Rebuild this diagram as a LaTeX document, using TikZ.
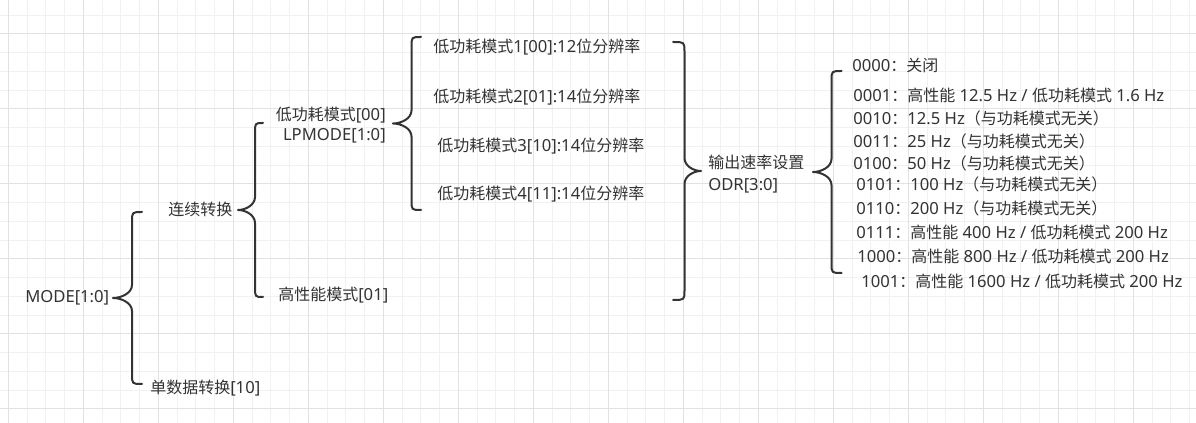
\documentclass[tikz,border=0pt]{standalone}
\usepackage{fontspec}
\usepackage{tikz}
\setmainfont[Scale=1.04]{Noto Sans}
\newfontfamily\cjk{Noto Sans CJK SC}
\definecolor{inkgray}{HTML}{333333}
\definecolor{gridlight}{HTML}{F1F1F1}
\definecolor{griddark}{HTML}{E2E2E2}
\newcommand{\cn}[1]{{\cjk #1}}
% #1 end x, #2 spine x, #3 tip x, #4 top y, #5 bottom y
\newcommand{\curly}[5]{%
	\draw[bracket] (#1,#4) .. controls (#2,#4) .. (#2,#4+10)
		-- (#2,{(#4+#5)/2-13})
		.. controls (#2,{(#4+#5)/2-5}) and ({#2+0.55*(#3-#2)},{(#4+#5)/2}) .. (#3,{(#4+#5)/2})
		.. controls ({#2+0.55*(#3-#2)},{(#4+#5)/2}) and (#2,{(#4+#5)/2+5}) .. (#2,{(#4+#5)/2+13})
		-- (#2,#5-10) .. controls (#2,#5) .. (#1,#5);}

\begin{document}
\begin{tikzpicture}[x=0.75pt, y=-0.75pt,
		every node/.style={font=\fontsize{12}{15}\selectfont, text=inkgray, inner sep=0pt},
		lbl/.style={anchor=west, text height=0.9em, text depth=0.18em},
		bracket/.style={draw=inkgray, line width=1.5pt, line cap=round, line join=round},
		gridminor/.style={draw=gridlight, line width=0.75pt},
		gridmajor/.style={draw=griddark, line width=0.75pt}]
			\useasboundingbox (0,0) rectangle (1196,423);
			\fill[white] (0,0) rectangle (1196,423);
			\foreach \k in {0,...,63} \draw[gridminor] ({8.33+18.75*\k},0) -- ++(0,423);
			\foreach \k in {0,...,21} \draw[gridminor] (0,{15.25+18.75*\k}) -- ++(1196,0);
			\foreach \k in {0,...,15} \draw[gridmajor] ({8.33+75*\k},0) -- ++(0,423);
			\foreach \k in {0,...,5} \draw[gridmajor] (0,{34+75*\k}) -- ++(1196,0);
			%
			\node[lbl] (mode)	at (25, 298)	{MODE[1:0]};
			\node[lbl] (cont)	at (168, 211)	{\cn{连续转换}};
			\node[lbl] (single)	at (150, 389)	{\cn{单数据转换}[10]};
			\node[anchor=east, align=right] (lpmode)	at (386, 125)	{\cn{低功耗模式}[00]\\LPMODE[1:0]};
			\node[lbl] (hperf)	at (278, 296)	{\cn{高性能模式}[01]};
			%
			\node[lbl] (lp1)	at (433, 48)	{\cn{低功耗模式}1[00]:12\cn{位分辨率}};
			\node[lbl] (lp2)	at (433, 98)	{\cn{低功耗模式}2[01]:14\cn{位分辨率}};
			\node[lbl] (lp3)	at (437, 147)	{\cn{低功耗模式}3[10]:14\cn{位分辨率}};
			\node[lbl] (lp4)	at (437, 195)	{\cn{低功耗模式}4[11]:14\cn{位分辨率}};
			%
			\node[anchor=west, align=left, font=\fontsize{12}{16.5}\selectfont] (odr)	at (708, 174)	{\cn{输出速率设置}\\ODR[3:0]};
			%
			\node[lbl] (o0000)	at (852, 67)	{0000\cn{：关闭}};
			\node[lbl] (o0001)	at (853, 97)	{0001\cn{：高性能} 12.5 Hz / \cn{低功耗模式} 1.6 Hz};
			\node[lbl] (o0010)	at (853, 120)	{0010\cn{：}12.5 Hz\cn{（与功耗模式无关）}};
			\node[lbl] (o0011)	at (853, 143)	{0011\cn{：}25 Hz\cn{（与功耗模式无关）}};
			\node[lbl] (o0100)	at (853, 165)	{0100\cn{：}50 Hz\cn{（与功耗模式无关）}};
			\node[lbl] (o0101)	at (856, 186)	{0101\cn{：}100 Hz\cn{（与功耗模式无关）}};
			\node[lbl] (o0110)	at (856, 210)	{0110\cn{：}200 Hz\cn{（与功耗模式无关）}};
			\node[lbl] (o0111)	at (856, 234)	{0111\cn{：高性能} 400 Hz / \cn{低功耗模式} 200 Hz};
			\node[lbl] (o1000)	at (857, 258)	{1000\cn{：高性能} 800 Hz / \cn{低功耗模式} 200 Hz};
			\node[lbl] (o1001)	at (861, 283)	{1001\cn{：高性能} 1600 Hz / \cn{低功耗模式} 200 Hz};
			%
			\curly{142}{132}{113}{212}{384}
			\curly{263}{255}{238}{123}{297}
			\curly{421}{411.5}{393}{37}{210}
			\curly{673}{684.5}{701}{42}{300}
			\curly{841.5}{831.5}{813}{71}{273}
		\end{tikzpicture}
\end{document}
